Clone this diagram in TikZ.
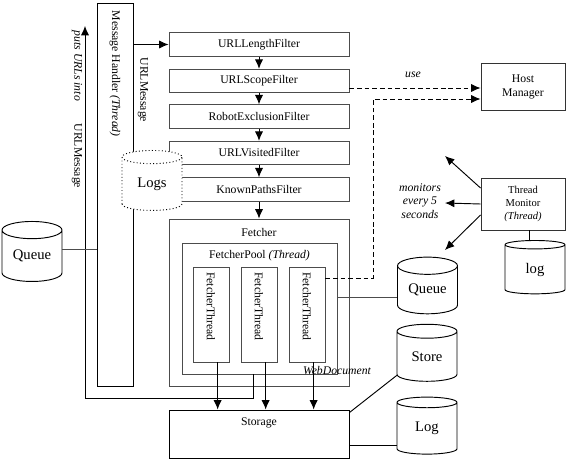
\documentclass[tikz,border=0pt]{standalone}
\usepackage{fontspec}
\setmainfont{Liberation Serif}
\usetikzlibrary{arrows.meta}
\usetikzlibrary{shapes.geometric}

\begin{document}
\begin{tikzpicture}[x=0.03cm, y=-0.03cm, line width=0.8pt,
    >={Latex[length=8pt,width=7pt]},
    filterbox/.style={draw=black!70, inner sep=0pt, minimum width=5.4cm, minimum height=0.7cm},
    threadbox/.style={draw=black!70, inner sep=0pt, minimum width=1.08cm, minimum height=2.85cm},
    plainbox/.style={draw, inner sep=0pt},
    dbcyl/.style={cylinder, shape border rotate=90, aspect=0.45, draw, fill=white, inner sep=0pt,
        minimum width=1.8cm, minimum height=1.71cm, font=\fontsize{12.5}{14}\selectfont},
    sidetext/.style={rotate=-90, anchor=west, inner sep=1pt},
    uselink/.style={dash pattern=on 4pt off 2.5pt, ->}]
                \useasboundingbox (0,0) rectangle (568,460);
                % message handler and its loop
                \node [plainbox, minimum width=1.08cm, minimum height=11.49cm] (mh) at (115,194.5) {};
                \node [sidetext] (mhlbl) at ([yshift=-0.2cm]mh.north) {Message Handler \textit{(Thread)}};
                \node [sidetext] (msglbl) at (143,56) {URLMessage};
                \node [sidetext, font=\itshape] (putslbl) at (77,29) {puts URLs into};
                \node [sidetext] (backlbl) at (77,122) {URLMessage};
                % filters
                \node [filterbox] (lenf) at (259,44.5) {URLLengthFilter};
                \node [filterbox] (scopef) at (259,81) {URLScopeFilter};
                \node [filterbox] (robotf) at (259,116.5) {RobotExclusionFilter};
                \node [filterbox] (visitf) at (259,153) {URLVisitedFilter};
                \node [filterbox] (knownf) at (259,189.5) {KnownPathsFilter};
                \draw [->] (mh.east |- lenf.west) -- (lenf.west);
                \draw [->] (lenf) -- (scopef);
                \draw [->] (scopef) -- (robotf);
                \draw [->] (robotf) -- (visitf);
                \draw [->] (visitf) -- (knownf);
                \node [dbcyl, dotted, minimum height=1.8cm] (logs) at (152,184) {Logs};
                % fetcher
                \node [filterbox, minimum height=5.01cm] (fetcher) at (259,302.5) {};
                \node (fetcherlbl) at (259,232) {Fetcher};
                \draw [->] (knownf) -- (fetcher);
                \node [filterbox, minimum width=4.65cm, minimum height=3.93cm] (pool) at (259.5,308.5) {};
                \node (poollbl) at (259.5,256) {FetcherPool \textit{(Thread)}};
                \node [plainbox, minimum width=5.4cm, minimum height=1.44cm] (storage) at (259,434) {};
                \node (storagelbl) at (259,423) {Storage};
                \foreach \n/\x in {1/211,2/259,3/307} {
                    \node [threadbox] (thr\n) at (\x,314.5) {};
                    \node [sidetext] (thrlbl\n) at ([yshift=-0.12cm]thr\n.north) {FetcherThread};
                    \coordinate (out\n) at ([xshift=0.2cm]thr\n.south);
                    \draw [->] (out\n) -- (out\n |- storage.north);
                }
                \node [font=\itshape] (weblbl) at (337,371) {WebDocument};
                \coordinate (back) at (253,374);
                \coordinate (loopc) at (85,398);
                \coordinate (puts) at (85,26);
                \draw [->] (back) |- (loopc) -- (puts);
                % host manager
                \node [plainbox, draw=black!80, minimum width=2.52cm, minimum height=1.41cm, align=center] (host) at (523,86.5) {Host\\Manager};
                \node [font=\itshape] (uselbl) at (413,75) {use};
                \coordinate (usestart) at ([yshift=-0.21cm]scopef.east);
                \draw [uselink] (usestart) -- (usestart -| host.west);
                \coordinate (dashc) at (373,278);
                \coordinate (hostin) at ([yshift=-0.375cm]host.west);
                \draw [uselink] (thr3.east |- dashc) -- (dashc) |- (hostin);
                % thread monitor
                \node [plainbox, draw=black!80, minimum width=2.52cm, minimum height=1.56cm, align=center, font=\small] (monitor) at (523,204) {Thread\\Monitor\\\textit{(Thread)}};
                \node [align=center, font=\itshape\fontsize{10}{11.5}\selectfont] (monlbl) at (420,201) {monitors\\every 5\\seconds};
                \coordinate (mon1) at (445,156);
                \coordinate (mon2) at (445,203);
                \coordinate (mon3) at (445,250);
                \draw [->] ([yshift=0.48cm]monitor.west) -- (mon1);
                \draw [->] (monitor.west) -- (mon2);
                \draw [->] ([yshift=-0.33cm]monitor.west) -- (mon3);
                \node [dbcyl, minimum height=1.6cm] (logc) at (535,269.5) {log};
                \coordinate (mlog) at ([xshift=0.18cm]monitor.south);
                \draw (mlog) -- (mlog |- logc.north);
                % stores
                \node [dbcyl, minimum height=1.8cm] (queue1) at (32,256) {Queue};
                \coordinate (qout) at ([yshift=0.2cm]queue1.east);
                \draw [black!70] (qout) -- (qout -| mh.west);
                \node [dbcyl, minimum height=1.7cm] (queue2) at (427.5,290) {Queue};
                \coordinate (qin) at ([yshift=-0.21cm]queue2.west);
                \draw [black!70] (pool.east |- qin) -- (qin);
                \node [dbcyl] (store) at (427,356.5) {Store};
                \draw ([yshift=-0.09cm]storage.north east) -- (store.212);
                \node [dbcyl] (logd) at (427,428.5) {Log};
                \coordinate (login) at ([yshift=-0.5cm]logd.west);
                \draw (storage.east |- login) -- (login);
\end{tikzpicture}
\end{document}
